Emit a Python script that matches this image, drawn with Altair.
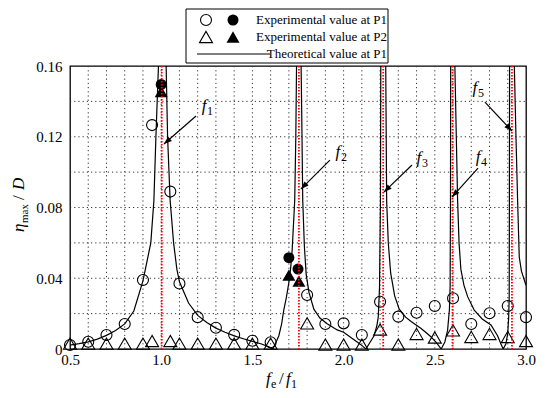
import math
import altair as alt
import pandas as pd

# ---------------- data ----------------
curve_x = [0.5, 0.55, 0.6, 0.65, 0.7, 0.75, 0.8, 0.85, 0.9, 0.943, 0.96, 0.971, 0.985, 1.003, 1.027,
           1.035, 1.049, 1.068, 1.086, 1.10, 1.15, 1.2, 1.25, 1.3, 1.35, 1.4, 1.45, 1.5, 1.55, 1.59,
           1.612, 1.63, 1.645, 1.66, 1.672, 1.686, 1.699, 1.71, 1.718, 1.732, 1.738, 1.742, 1.755,
           1.767, 1.772, 1.776, 1.785, 1.795, 1.81, 1.837, 1.87, 1.91, 1.965, 2.0, 2.04, 2.08, 2.106,
           2.122, 2.14, 2.167, 2.182, 2.19, 2.197, 2.202, 2.204, 2.217, 2.231, 2.236, 2.245, 2.258,
           2.28, 2.305, 2.34, 2.37, 2.423, 2.45, 2.48, 2.51, 2.535, 2.555, 2.57, 2.58, 2.584, 2.586,
           2.587, 2.597, 2.610, 2.625, 2.633, 2.643, 2.66, 2.68, 2.716, 2.76, 2.808, 2.844, 2.862,
           2.875, 2.89, 2.90, 2.905, 2.908, 2.909, 2.91, 2.923, 2.936, 2.945, 2.954, 2.963, 2.975, 3.0]
curve_y = [0.0022, 0.0030, 0.0040, 0.0056, 0.0077, 0.0105, 0.0142, 0.0215, 0.0385, 0.060, 0.084, 0.12, 0.16, 0.40, 0.16,
           0.12, 0.084, 0.060, 0.045, 0.038, 0.026, 0.019, 0.0150, 0.0118, 0.0095, 0.0074, 0.0058, 0.0043, 0.0028, 0.0012,
           0.0, 0.004, 0.0075, 0.014, 0.022, 0.029, 0.037, 0.046, 0.056, 0.084, 0.12, 0.16, 0.40,
           0.16, 0.12, 0.084, 0.058, 0.042, 0.032, 0.0225, 0.0175, 0.0143, 0.0108, 0.0095, 0.0065, 0.0035, 0.0015,
           0.0, 0.003, 0.0075, 0.013, 0.018, 0.035, 0.084, 0.16, 0.40, 0.16, 0.084, 0.060, 0.043,
           0.030, 0.0225, 0.018, 0.0155, 0.0117, 0.0095, 0.0068, 0.0035, 0.0, 0.004, 0.0105, 0.022, 0.035, 0.084,
           0.16, 0.40, 0.16, 0.084, 0.060, 0.045, 0.036, 0.0296, 0.022, 0.017, 0.0136, 0.0075, 0.003,
           0.0, 0.003, 0.009, 0.018, 0.030, 0.084, 0.16, 0.40, 0.16, 0.12, 0.084, 0.052, 0.044, 0.036]

exp_x = [0.5, 0.6, 0.7, 0.8, 0.9, 0.95, 1.05, 1.1, 1.2, 1.3, 1.4, 1.5, 1.6,
         1.8, 1.9, 2.0, 2.1, 2.2, 2.3, 2.4, 2.5, 2.6, 2.7, 2.8, 2.9, 3.0]
p1_open_y = [0.0023, 0.0041, 0.0079, 0.0141, 0.039, 0.1266, 0.089, 0.037, 0.018, 0.012, 0.008, 0.0047, 0.0038,
             0.0305, 0.0141, 0.0145, 0.0079, 0.0267, 0.0183, 0.0205, 0.0243, 0.0287, 0.0141, 0.0202, 0.0243, 0.018]
p2_open_y = [0.003, 0.003, 0.003, 0.003, 0.003, 0.0045, 0.0045, 0.003, 0.003, 0.003, 0.003, 0.003, 0.003,
             0.0145, 0.0025, 0.0025, 0.0025, 0.011, 0.0025, 0.0085, 0.0065, 0.0105, 0.0068, 0.0085, 0.0068, 0.0045]

p1_fill_x = [1.0, 1.70, 1.75]
p1_fill_y = [0.1496, 0.0516, 0.0452]
p2_fill_x = [1.0, 1.70, 1.755]
p2_fill_y = [0.1455, 0.0418, 0.0384]

res_x = [1.003, 1.755, 2.217, 2.597, 2.923]
res_sub = ["1", "2", "3", "4", "5"]
arrow_x0 = [1.191, 1.925, 2.375, 2.737, 2.775]
arrow_y0 = [0.1317, 0.1068, 0.1040, 0.1023, 0.1396]
arrow_x1 = [1.015, 1.766, 2.221, 2.594, 2.923]
arrow_y1 = [0.1159, 0.0904, 0.0887, 0.0859, 0.1232]
label_x = [1.235, 1.969, 2.413, 2.737, 2.720]
label_y = [0.1374, 0.1114, 0.1080, 0.1085, 0.1475]

x_ticks = [0.5, 1.0, 1.5, 2.0, 2.5, 3.0]
y_ticks = [0.0, 0.04, 0.08, 0.12, 0.16]
x_grid = [round(0.5 + 0.1 * i, 1) for i in range(1, 25)]
y_grid = [round(0.02 * i, 2) for i in range(1, 8)]

# ---------------- layout ----------------
W, H = 456, 283
XMIN, XMAX, YMIN, YMAX = 0.5, 3.0, 0.0, 0.16
XPX = W / (XMAX - XMIN)
YPX = H / (YMAX - YMIN)
FONT = "Liberation Serif, Times New Roman, serif"

xs = alt.Scale(domain=[XMIN, XMAX], nice=False, zero=False)
ys = alt.Scale(domain=[YMIN, YMAX], nice=False, zero=False)


def X(f, **kw):
    return alt.X(f, type="quantitative", scale=xs, title=None, **kw)


def Y(f, **kw):
    return alt.Y(f, type="quantitative", scale=ys, title=None, **kw)


curve_df = pd.DataFrame({"x": curve_x, "y": curve_y, "i": list(range(len(curve_x)))})
p1o = pd.DataFrame({"x": exp_x, "y": p1_open_y})
p2o = pd.DataFrame({"x": exp_x, "y": p2_open_y})
p1f = pd.DataFrame({"x": p1_fill_x, "y": p1_fill_y})
p2f = pd.DataFrame({"x": p2_fill_x, "y": p2_fill_y})
res_df = pd.DataFrame({"x": res_x})
xg_df = pd.DataFrame({"x": x_grid})
yg_df = pd.DataFrame({"y": y_grid})

ang = []
for a, b, c, d in zip(arrow_x0, arrow_y0, arrow_x1, arrow_y1):
    dx = (c - a) * XPX
    dy = -(d - b) * YPX
    ang.append((math.degrees(math.atan2(dx, -dy)) + 360) % 360)
arr_df = pd.DataFrame({"x0": arrow_x0, "y0": arrow_y0, "x1": arrow_x1, "y1": arrow_y1, "ang": ang})
lab_df = pd.DataFrame({"x": label_x, "y": label_y, "s": res_sub})
one = pd.DataFrame({"k": [0]})

ax_common = dict(grid=False, ticks=False, domain=False, labelFont=FONT, labelFontSize=15,
                 labelColor="black", labelFlush=False, labelOverlap=False)
x_axis = alt.Axis(values=x_ticks, format=".1f", labelPadding=3, **ax_common)
y_axis = alt.Axis(values=y_ticks, labelPadding=8,
                  labelExpr="datum.value == 0 ? '0' : format(datum.value, '.2f')", **ax_common)

grid_style = dict(color="#333", strokeWidth=1, strokeDash=[1.2, 3])
xgrid = alt.Chart(xg_df).mark_rule(**grid_style).encode(
    x=X("x", axis=x_axis), y=alt.value(0), y2=alt.value(H))
ygrid = alt.Chart(yg_df).mark_rule(**grid_style).encode(
    y=Y("y", axis=y_axis), x=alt.value(0), x2=alt.value(W))

curve = alt.Chart(curve_df).mark_line(color="black", strokeWidth=1.2, clip=True).encode(
    x=X("x"), y=Y("y"), order="i:Q")

pt = dict(strokeWidth=1.1, opacity=1)
p1o_l = alt.Chart(p1o).mark_point(shape="circle", size=121, filled=False, color="black", **pt).encode(x=X("x"), y=Y("y"))
p2o_l = alt.Chart(p2o).mark_point(shape="triangle-up", size=169, filled=False, color="black", **pt).encode(x=X("x"), y=Y("y"))
p1f_l = alt.Chart(p1f).mark_point(shape="circle", size=121, filled=True, color="black", opacity=1).encode(x=X("x"), y=Y("y"))
p2f_l = alt.Chart(p2f).mark_point(shape="triangle-up", size=169, filled=True, color="black", opacity=1).encode(x=X("x"), y=Y("y"))

red = alt.Chart(res_df).mark_rule(color="#ff0000", strokeWidth=1.8, strokeDash=[1.5, 1.5]).encode(
    x=X("x"), y=alt.value(0), y2=alt.value(H))

arrows = alt.Chart(arr_df).mark_rule(color="black", strokeWidth=1.2).encode(
    x=X("x0"), y=Y("y0"), x2="x1", y2="y1")
heads = alt.Chart(arr_df).mark_point(shape="M0,0L-0.4,1.1L0.4,1.1Z", size=212, filled=True,
                                     color="black", opacity=1).encode(
    x=X("x1"), y=Y("y1"), angle=alt.Angle("ang:Q", scale=None))

lab_f = alt.Chart(lab_df).mark_text(text="f", font=FONT, fontStyle="italic", fontSize=17,
                                    align="center", baseline="middle", color="black").encode(x=X("x"), y=Y("y"))
lab_s = alt.Chart(lab_df).mark_text(font=FONT, fontSize=12, align="left", baseline="middle",
                                    dx=3, dy=5, color="black").encode(x=X("x"), y=Y("y"), text="s:N")


# ---------------- legend (drawn above the plot) ----------------
def txt(t, x, y, **kw):
    opts = dict(font=FONT, color="black", baseline="middle")
    opts.update(kw)
    return alt.Chart(one).mark_text(text=t, **opts).encode(x=alt.value(x), y=alt.value(y))


leg = [
    alt.Chart(one).mark_rect(fill="white", stroke="black", strokeWidth=1).encode(
        x=alt.value(116), x2=alt.value(318), y=alt.value(-57), y2=alt.value(-3)),
    alt.Chart(one).mark_point(shape="circle", size=121, filled=False, color="black", **pt).encode(
        x=alt.value(136), y=alt.value(-46)),
    alt.Chart(one).mark_point(shape="circle", size=121, filled=True, color="black", opacity=1).encode(
        x=alt.value(163), y=alt.value(-46)),
    alt.Chart(one).mark_point(shape="triangle-up", size=169, filled=False, color="black", **pt).encode(
        x=alt.value(136), y=alt.value(-29)),
    alt.Chart(one).mark_point(shape="triangle-up", size=169, filled=True, color="black", opacity=1).encode(
        x=alt.value(163), y=alt.value(-29)),
    alt.Chart(one).mark_rule(color="black", strokeWidth=1.2).encode(
        x=alt.value(127), x2=alt.value(200), y=alt.value(-12)),
    txt("Experimental value at P1", 317, -46, fontSize=13, align="right"),
    txt("Experimental value at P2", 317, -29, fontSize=13, align="right"),
    txt("Theoretical value at P1", 317, -12, fontSize=13, align="right"),
]

# ---------------- axis titles ----------------
titles = [
    txt("f", 196, 318, fontSize=17, fontStyle="italic", align="left", baseline="alphabetic"),
    txt("e", 201, 322, fontSize=12, align="left", baseline="alphabetic"),
    txt("/", 209, 318, fontSize=17, align="left", baseline="alphabetic"),
    txt("f", 216, 318, fontSize=17, fontStyle="italic", align="left", baseline="alphabetic"),
    txt("1", 221, 322, fontSize=12, align="left", baseline="alphabetic"),
    txt("η", -46, 166, fontSize=17, fontStyle="italic", align="left", baseline="alphabetic", angle=270),
    txt("max", -42, 157, fontSize=11, align="left", baseline="alphabetic", angle=270),
    txt("/", -46, 134, fontSize=17, align="left", baseline="alphabetic", angle=270),
    txt("D", -46, 124, fontSize=17, fontStyle="italic", align="left", baseline="alphabetic", angle=270),
]

chart = alt.layer(
    xgrid, ygrid, curve, p1o_l, p2o_l, p1f_l, p2f_l, red, arrows, heads, lab_f, lab_s, *leg, *titles
).properties(
    width=W, height=H, autosize="none",
    padding={"left": 62, "top": 58, "right": 16, "bottom": 41},
).configure_view(stroke="black", strokeWidth=1.3).configure_axis(
    labelFont=FONT, labelFontSize=15, labelColor="black"
).configure_text(font=FONT)

chart.save("out.html", embed_options={"renderer": "svg", "actions": False})
